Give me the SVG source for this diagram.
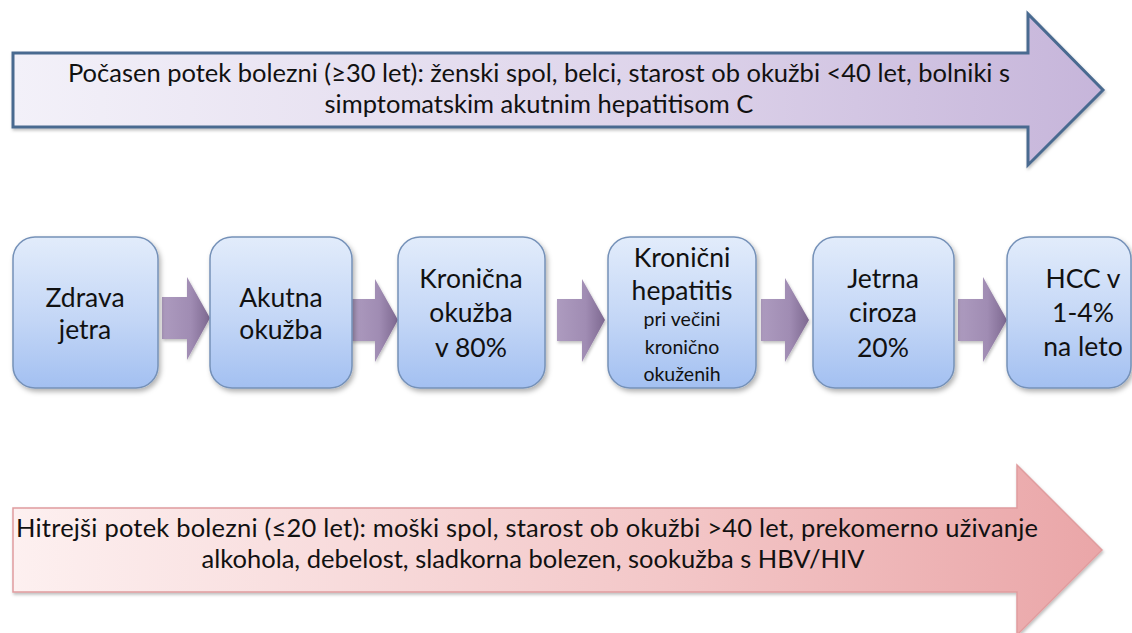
<svg xmlns="http://www.w3.org/2000/svg" width="1132" height="633" viewBox="0 0 1132 633">
<defs>
<linearGradient id="gTop" x1="0" y1="0" x2="1" y2="0">
<stop offset="0" stop-color="#f3f1f9"/>
<stop offset="0.6" stop-color="#ddd3ea"/>
<stop offset="1" stop-color="#c6b5da"/>
</linearGradient>
<linearGradient id="gBot" x1="0" y1="0" x2="1" y2="0">
<stop offset="0" stop-color="#fdf0f0"/>
<stop offset="0.6" stop-color="#f3c7c8"/>
<stop offset="1" stop-color="#eaa6a8"/>
</linearGradient>
<linearGradient id="gNode" x1="0" y1="0" x2="0" y2="1">
<stop offset="0" stop-color="#e2ecfb"/>
<stop offset="0.55" stop-color="#c3d6f6"/>
<stop offset="1" stop-color="#a3c0f1"/>
</linearGradient>
<linearGradient id="gArr" x1="0" y1="0" x2="1" y2="0">
<stop offset="0" stop-color="#ad9bbf"/>
<stop offset="0.6" stop-color="#a08cb3"/>
<stop offset="1" stop-color="#7d6890"/>
</linearGradient>
<filter id="sh" x="-10%" y="-10%" width="125%" height="125%">
<feDropShadow dx="2" dy="3" stdDeviation="2.5" flood-color="#000" flood-opacity="0.3"/>
</filter>
<filter id="shs" x="-10%" y="-10%" width="125%" height="125%">
<feDropShadow dx="1" dy="2" stdDeviation="1.5" flood-color="#000" flood-opacity="0.25"/>
</filter>
</defs>
<style>
.t{font-family:Lato,"Open Sans","Liberation Sans",sans-serif;fill:#111;text-anchor:middle}
.big{font-size:25.5px}
.n{font-size:26.5px}
.s{font-size:19.5px}
.node{fill:url(#gNode);stroke:#7591b8;stroke-width:1.5;filter:url(#sh)}
.arr{fill:url(#gArr);stroke:none;filter:url(#shs)}
</style>

<g id="slow">
<polygon points="13,53 1028,53 1028,14 1103,90 1028,165 1028,127 13,127" fill="url(#gTop)" stroke="#4a6a90" stroke-width="3" stroke-linejoin="miter" filter="url(#shs)"/>
<text class="t big" x="539" y="82">Počasen potek bolezni (≥30 let): ženski spol, belci, starost ob okužbi &lt;40 let, bolniki s</text>
<text class="t big" x="539" y="113">simptomatskim akutnim hepatitisom C</text>
</g>

<g id="fast">
<polygon points="13,508 1017,508 1017,465 1102,550 1017,635 1017,592 13,592" fill="url(#gBot)" stroke="#e09c9e" stroke-width="1.5" filter="url(#shs)"/>
<text class="t big" x="527" y="537" textLength="1022" lengthAdjust="spacing">Hitrejši potek bolezni (≤20 let): moški spol, starost ob okužbi &gt;40 let, prekomerno uživanje</text>
<text class="t big" x="533" y="568">alkohola, debelost, sladkorna bolezen, sookužba s  HBV/HIV</text>
</g>

<g id="connectors">
<polygon class="arr" points="162,297 187,297 187,277 210,318 187,360 187,339 162,339"/>
<polygon class="arr" points="351,299 375,299 375,279 398,320 375,362 375,341 351,341"/>
<polygon class="arr" points="557,299 582,299 582,279 605,320 582,362 582,341 557,341"/>
<polygon class="arr" points="761,299 785,299 785,278 809,320 785,362 785,341 761,341"/>
<polygon class="arr" points="958,299 983,299 983,277 1007,320 983,362 983,341 958,341"/>
</g>

<g id="n1">
<rect class="node" x="13" y="237" width="145" height="151" rx="22"/>
<text class="t n" x="85" y="307">Zdrava</text>
<text class="t n" x="85" y="339">jetra</text>
</g>
<g id="n2">
<rect class="node" x="210" y="237" width="142" height="151" rx="22"/>
<text class="t n" x="281" y="307">Akutna</text>
<text class="t n" x="281" y="339">okužba</text>
</g>
<g id="n3">
<rect class="node" x="398" y="237" width="147" height="151" rx="22"/>
<text class="t n" x="471" y="288">Kronična</text>
<text class="t n" x="471" y="322">okužba</text>
<text class="t n" x="471" y="357">v 80%</text>
</g>
<g id="n4">
<rect class="node" x="608" y="237" width="148" height="151" rx="22"/>
<text class="t n" x="682" y="267">Kronični</text>
<text class="t n" x="682" y="300">hepatitis</text>
<text class="t s" x="682" y="326">pri večini</text>
<text class="t s" x="682" y="354">kronično</text>
<text class="t s" x="682" y="381">okuženih</text>
</g>
<g id="n5">
<rect class="node" x="813" y="237" width="141" height="151" rx="22"/>
<text class="t n" x="883" y="288">Jetrna</text>
<text class="t n" x="883" y="322">ciroza</text>
<text class="t n" x="883" y="357">20%</text>
</g>
<g id="n6">
<rect class="node" x="1007" y="237" width="124" height="151" rx="22"/>
<text class="t n" x="1083" y="288">HCC v</text>
<text class="t n" x="1083" y="322">1-4%</text>
<text class="t n" x="1083" y="356">na leto</text>
</g>
</svg>
